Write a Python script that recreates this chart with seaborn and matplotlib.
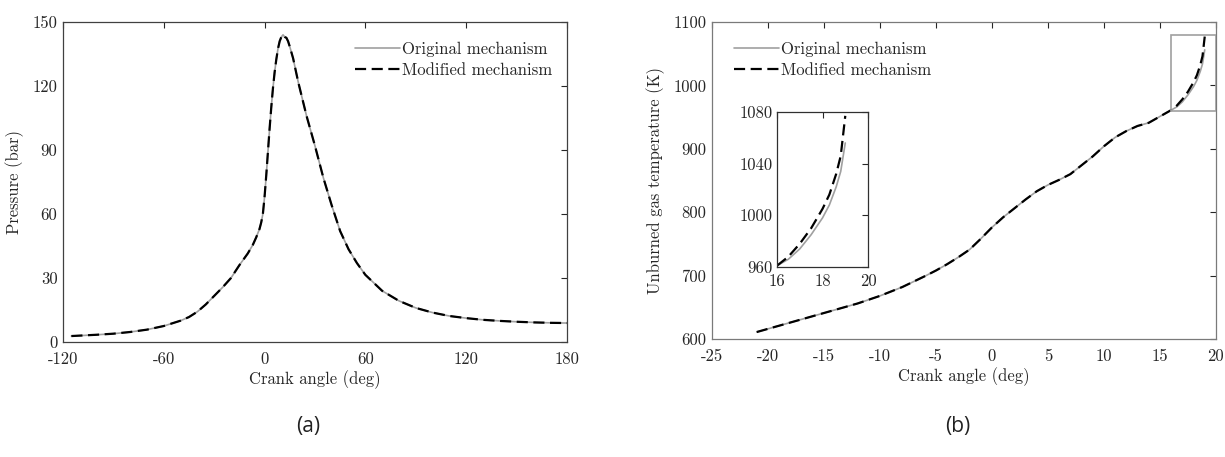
import matplotlib
matplotlib.use("Agg")
import matplotlib.pyplot as plt
from matplotlib.patches import Rectangle
import seaborn as sns
import pandas as pd

# ---------------- data ----------------
series_names = ["Original mechanism", "Modified mechanism"]

angle_p = [-115, -100, -90, -80, -70, -60, -50, -45, -40, -35, -30, -25, -20, -15,
           -10, -7, -5, -3, -2, -1, 0, 1, 2, 3, 4, 5, 6, 7, 8, 9, 10, 11, 12, 13,
           14, 15, 17, 20, 25, 30, 35, 40, 45, 50, 55, 60, 70, 80, 90, 100, 110,
           120, 130, 140, 150, 160, 170, 180]
pressure_original = [2.8, 3.4, 3.9, 4.7, 5.8, 7.5, 10.0, 11.7, 14.2, 17.6, 21.6, 25.6,
                     30.0, 36.0, 41.5, 45.5, 49.0, 53.0, 56.0, 60.0, 68.0, 78.0, 89.0,
                     100.0, 110.0, 119.0, 126.5, 132.5, 137.5, 141.0, 143.0, 144.0,
                     143.0, 142.6, 141.0, 138.5, 133.0, 122.0, 106.0, 92.0, 77.0, 64.0,
                     52.0, 43.5, 37.0, 31.5, 24.0, 19.3, 16.0, 13.8, 12.2, 11.2, 10.4,
                     9.9, 9.5, 9.2, 9.0, 8.9]
pressure_modified = list(pressure_original)

angle_t = [-21, -18, -15, -12, -10, -8, -6, -5, -4, -3, -2, -1, 0, 1, 2, 3, 4, 5, 6,
           7, 8, 9, 10, 11, 12, 13, 14, 15, 16, 16.5, 17, 17.5, 18, 18.3, 18.6, 18.8, 19.0]
temp_original = [611, 626, 641, 656, 668, 682, 699, 708, 718, 729, 741, 758, 776, 792,
                 806, 820, 833, 843, 851, 860, 874, 888, 904, 918, 928, 936, 941, 951,
                 961, 966, 974, 985, 998, 1008, 1022, 1034, 1056]
temp_modified = [611, 626, 641, 656, 668, 682, 699, 708, 718, 729, 741, 758, 776, 792,
                 806, 820, 833, 843, 851, 860, 874, 888, 904, 918, 928, 936, 941, 951,
                 961, 968, 978, 990, 1005, 1016, 1032, 1046, 1077]

xticks_a = [-120, -60, 0, 60, 120, 180]
yticks_a = [0, 30, 60, 90, 120, 150]
xticks_b = [-25, -20, -15, -10, -5, 0, 5, 10, 15, 20]
yticks_b = [600, 700, 800, 900, 1000, 1100]
inset_xticks = [16, 18, 20]
inset_yticks = [960, 1000, 1040, 1080]

# ---------------- style ----------------
sns.set_theme(style="white")
plt.rcParams["font.family"] = ["cmr10", "DejaVu Serif"]
plt.rcParams["axes.formatter.use_mathtext"] = True
plt.rcParams["mathtext.fontset"] = "cm"
FS = 12

palette = {series_names[0]: "#a0a0a0", series_names[1]: "#000000"}
dashes = {series_names[0]: "", series_names[1]: (5, 2.5)}
sizes = {series_names[0]: 1.2, series_names[1]: 1.6}

df_p = pd.DataFrame({
    "angle": angle_p + angle_p,
    "value": pressure_original + pressure_modified,
    "series": [series_names[0]] * len(angle_p) + [series_names[1]] * len(angle_p),
})
df_t = pd.DataFrame({
    "angle": angle_t + angle_t,
    "value": temp_original + temp_modified,
    "series": [series_names[0]] * len(angle_t) + [series_names[1]] * len(angle_t),
})

fig = plt.figure(figsize=(12.25, 4.57), dpi=100)
ax1 = fig.add_axes([0.0514, 0.2516, 0.4114, 0.7002])
ax2 = fig.add_axes([0.5812, 0.2582, 0.4114, 0.6937])


def draw(ax, df, legend):
    sns.lineplot(data=df, x="angle", y="value", hue="series", style="series",
                 size="series", sizes=sizes, palette=palette, dashes=dashes,
                 hue_order=series_names, style_order=series_names,
                 size_order=series_names, sort=False, estimator=None,
                 legend=legend, ax=ax)


def style_axes(ax, spine_color):
    for s in ax.spines.values():
        s.set_visible(True)
        s.set_color(spine_color)
        s.set_linewidth(0.9)
    ax.tick_params(direction="in", top=True, right=True, length=4, width=0.8,
                   color="#262626", labelsize=FS, labelcolor="#262626", pad=4)
    ax.tick_params(axis="x", pad=7)


# ----- panel (a) -----
draw(ax1, df_p, "brief")
ax1.set_xlim(-120, 180)
ax1.set_ylim(0, 150)
ax1.set_xticks(xticks_a)
ax1.set_xticklabels([str(v) for v in xticks_a])
ax1.set_yticks(yticks_a)
ax1.set_yticklabels([str(v) for v in yticks_a])
ax1.set_xlabel("Crank angle (deg)", fontsize=FS, color="#262626", labelpad=2)
ax1.set_ylabel("Pressure (bar)", fontsize=FS, color="#262626", labelpad=6)
style_axes(ax1, "#404040")
h, l = ax1.get_legend_handles_labels()
ax1.legend(h, l, loc="upper right", bbox_to_anchor=(0.995, 0.975), frameon=False,
           fontsize=FS, handlelength=2.7, handletextpad=0.15, labelspacing=0.35,
           borderaxespad=0.3)

# ----- panel (b) -----
draw(ax2, df_t, "brief")
ax2.set_xlim(-25, 20)
ax2.set_ylim(600, 1100)
ax2.set_xticks(xticks_b)
ax2.set_xticklabels([str(v) for v in xticks_b])
ax2.set_yticks(yticks_b)
ax2.set_yticklabels([str(v) for v in yticks_b])
ax2.set_xlabel("Crank angle (deg)", fontsize=FS, color="#262626", labelpad=2)
ax2.set_ylabel("Unburned gas temperature (K)", fontsize=FS, color="#262626", labelpad=6)
style_axes(ax2, "#7a7a7a")
h, l = ax2.get_legend_handles_labels()
ax2.legend(h, l, loc="upper left", bbox_to_anchor=(0.02, 0.975), frameon=False,
           fontsize=FS, handlelength=2.7, handletextpad=0.15, labelspacing=0.35,
           borderaxespad=0.3)

inset_xlim = (16, 20)
inset_ylim = (960, 1080)
rect = Rectangle((inset_xlim[0], inset_ylim[0]), inset_xlim[1] - inset_xlim[0],
                 inset_ylim[1] - inset_ylim[0], fill=False, edgecolor="#a0a0a0",
                 linewidth=1.2, zorder=3)
ax2.add_patch(rect)

# ----- inset -----
axi = fig.add_axes([0.6343, 0.4158, 0.0743, 0.3392])
draw(axi, df_t, False)
axi.set_xlim(*inset_xlim)
axi.set_ylim(*inset_ylim)
axi.set_xticks(inset_xticks)
axi.set_xticklabels([str(v) for v in inset_xticks])
axi.set_yticks(inset_yticks)
axi.set_yticklabels([str(v) for v in inset_yticks])
axi.set_xlabel("")
axi.set_ylabel("")
style_axes(axi, "#303030")
axi.tick_params(axis="y", pad=3)
axi.tick_params(axis="x", pad=5)

# ----- panel captions -----
fig.text(0.2514, 0.066, "(a)", ha="center", va="center", fontsize=15,
         family=["Open Sans", "DejaVu Sans"], color="#222222")
fig.text(0.782, 0.066, "(b)", ha="center", va="center", fontsize=15,
         family=["Open Sans", "DejaVu Sans"], color="#222222")

fig.savefig("out.png", dpi=100)
